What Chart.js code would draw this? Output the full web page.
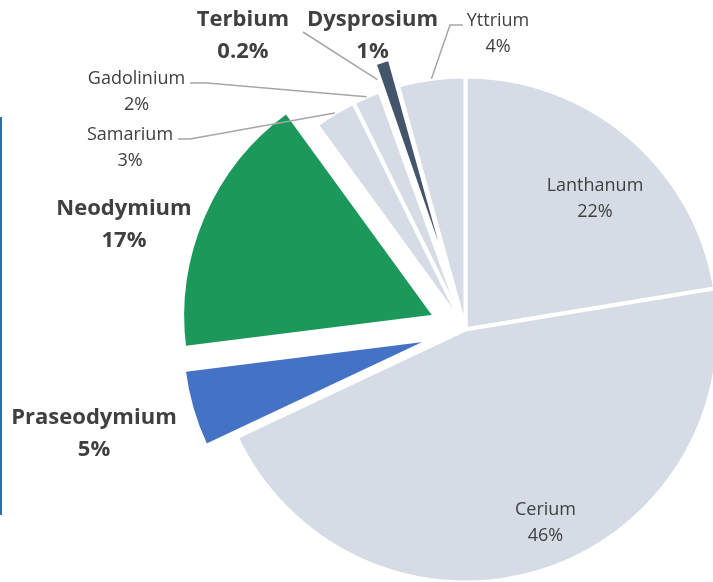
<!DOCTYPE html>
<html><head><meta charset="utf-8">
<script src="https://cdn.jsdelivr.net/npm/chart.js@4/dist/chart.umd.min.js"></script>
<style>
html,body{margin:0;padding:0;background:#fff;overflow:hidden;}
#wrap{position:relative;width:713px;height:582px;}
#edge{position:absolute;left:0;top:117px;width:2px;height:398px;background:#2E6DA8;}
canvas{position:absolute;left:0;top:0;}
</style></head><body>
<div id="wrap"><canvas id="c" width="713" height="582"></canvas><div id="edge"></div></div>
<script>
// ---- data ----
const categories = ['Lanthanum','Cerium','Praseodymium','Neodymium','Samarium','Gadolinium','Terbium','Dysprosium','Yttrium'];
const shares = [22.4, 45.6, 5.0, 17.0, 2.7, 1.8, 0.2, 1.0, 4.3];

// ---- styles / layout ----
const sliceColors = ['#D6DCE5','#D6DCE5','#4472C4','#1B985A','#D6DCE5','#D6DCE5','#44546A','#44546A','#D6DCE5'];
const explode = [0, 0, 32, 33, 0, 0, 0, 28, 0];
const boldLabel = [false, false, true, true, false, false, true, true, false];
// label anchor (first-line baseline centre) relative to pie centre
const labelAnchor = [[129.5,-138.8],[80,185.5],[-371.5,94.5],[-341.5,-114.5],[-335.5,-189.5],[-329,-245.5],[-222.5,-303.5],[-93,-303.5],[32.5,-303.5]];
const leaderFrom = [null,null,null,null,[-287.5,-190.5],[-275.5,-246.5],[-162.5,-297.5],null,[-2.5,-304.5]];
const leaderBend = [null,null,null,null,[-275.5,-190.5],[-258.5,-246.5],null,null,[-15.5,-304.5]];
const leaderExtra = [0,0,0,0,0,0,12,0,0];

const explodePlugin = {
  id: 'explodeSlices',
  afterDatasetsUpdate(chart) {
    const meta = chart.getDatasetMeta(0);
    meta.data.forEach((arc, i) => {
      const e = explode[i];
      if (!e) return;
      const mid = (arc.startAngle + arc.endAngle) / 2;
      arc.x += Math.cos(mid) * e;
      arc.y += Math.sin(mid) * e;
    });
  }
};

const labelPlugin = {
  id: 'sliceLabels',
  afterDatasetsDraw(chart) {
    const ctx = chart.ctx;
    const meta = chart.getDatasetMeta(0);
    const R = meta.controller.outerRadius;
    const ca = chart.chartArea;
    const cx = (ca.left + ca.right) / 2, cy = (ca.top + ca.bottom) / 2;
    const total = shares.reduce((a, b) => a + b, 0);
    ctx.save();
    // leader lines
    ctx.strokeStyle = '#A6A6A6';
    ctx.lineWidth = 1.5;
    meta.data.forEach((arc, i) => {
      if (!leaderFrom[i]) return;
      const mid = (arc.startAngle + arc.endAngle) / 2;
      const r = R + leaderExtra[i];
      ctx.beginPath();
      ctx.moveTo(cx + leaderFrom[i][0], cy + leaderFrom[i][1]);
      if (leaderBend[i]) ctx.lineTo(cx + leaderBend[i][0], cy + leaderBend[i][1]);
      ctx.lineTo(arc.x + Math.cos(mid) * r, arc.y + Math.sin(mid) * r);
      ctx.stroke();
    });
    // texts
    ctx.fillStyle = '#404040';
    ctx.textAlign = 'center';
    ctx.textBaseline = 'alphabetic';
    categories.forEach((name, i) => {
      const pct = shares[i] / total * 100;
      const pctText = (pct < 0.95 ? pct.toFixed(1) : Math.round(pct)) + '%';
      const bold = boldLabel[i];
      ctx.font = bold ? 'bold 22px "Open Sans"' : '18px "Open Sans"';
      const gap = bold ? 32 : 26;
      const x = cx + labelAnchor[i][0], y = cy + labelAnchor[i][1];
      ctx.fillText(name, x, y);
      ctx.fillText(pctText, x, y + gap);
    });
    ctx.restore();
  }
};

new Chart(document.getElementById('c'), {
  type: 'pie',
  data: {
    labels: categories,
    datasets: [{
      data: shares,
      backgroundColor: sliceColors,
      borderColor: '#ffffff',
      borderWidth: 4,
      hoverOffset: 0,
      radius: 253
    }]
  },
  options: {
    responsive: false,
    animation: false,
    events: [],
    radius: 253,
    layout: { padding: { left: 218, right: 0, top: 77, bottom: 0 } },
    plugins: { legend: { display: false }, tooltip: { enabled: false } }
  },
  plugins: [explodePlugin, labelPlugin]
});
</script>
</body></html>
